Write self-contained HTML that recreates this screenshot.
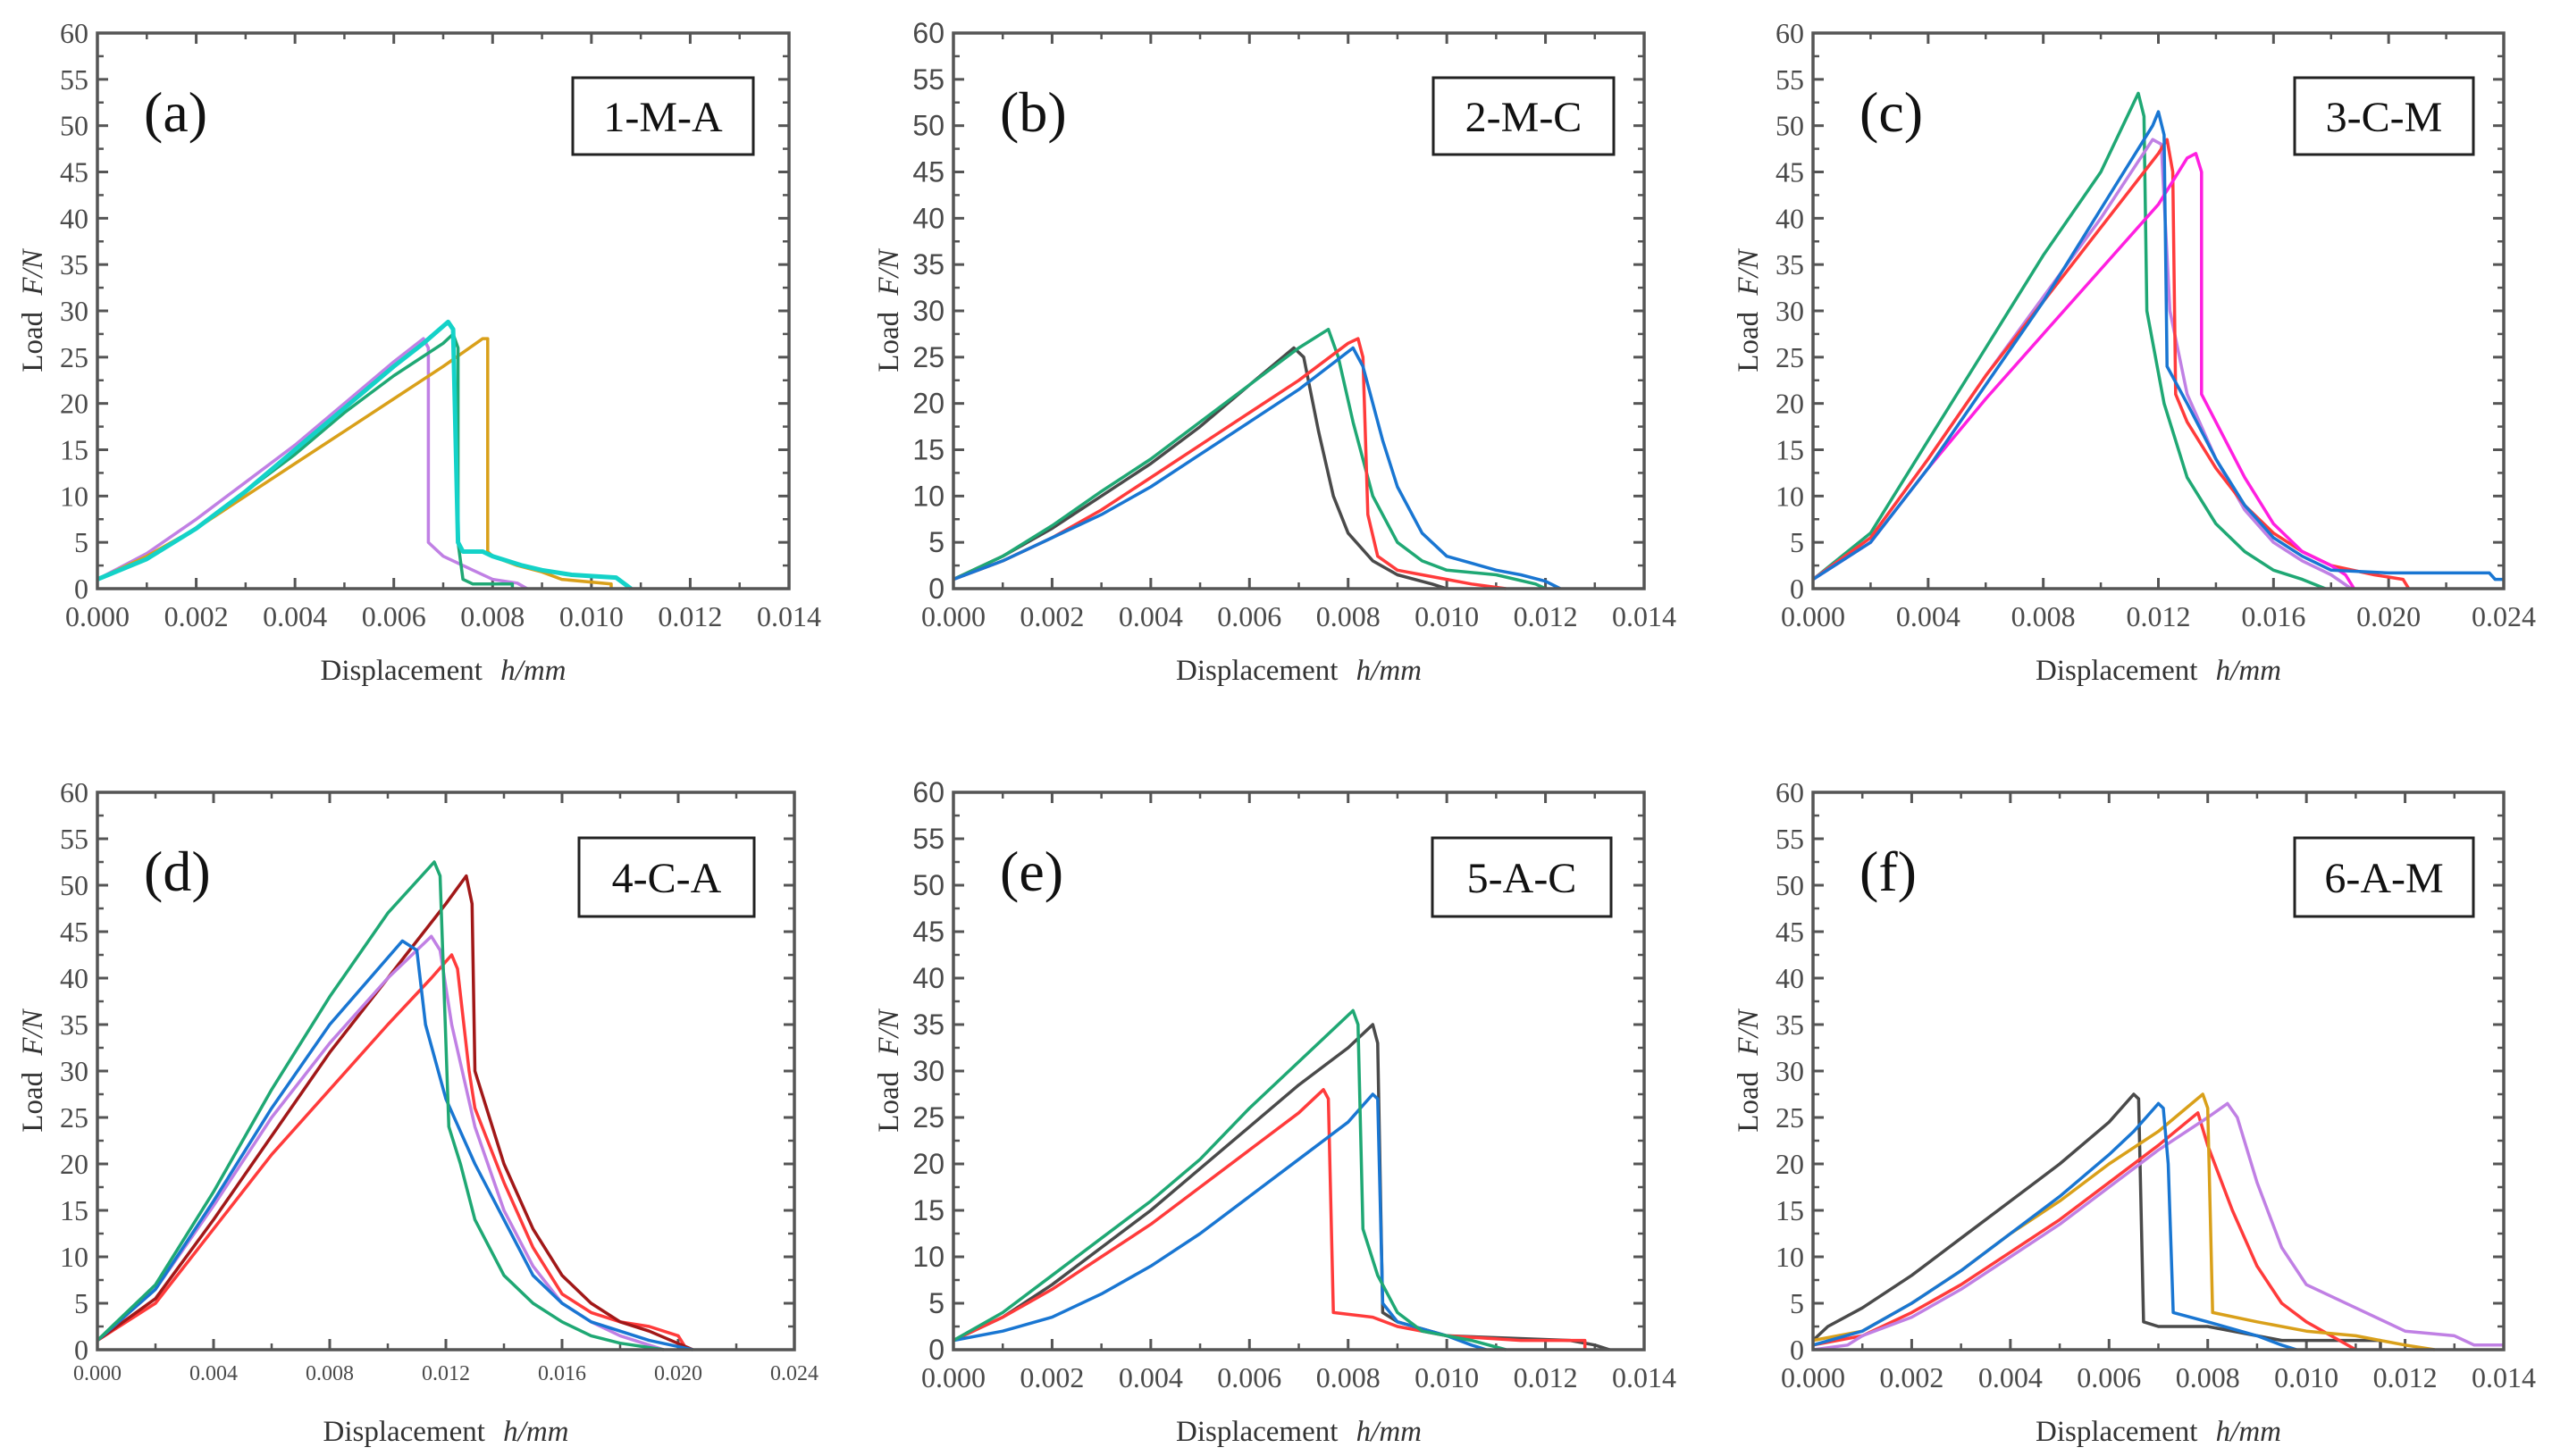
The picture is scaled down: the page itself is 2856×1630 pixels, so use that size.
<!DOCTYPE html>
<html><head><meta charset="utf-8"><style>
html,body{margin:0;padding:0;background:#fff;}
svg{display:block;}
</style></head><body>
<svg id="fig" width="2856" height="1630" viewBox="0 0 2856 1630" xmlns="http://www.w3.org/2000/svg"></svg>
<script>
// ---- data ----
const yTicks = [0,5,10,15,20,25,30,35,40,45,50,55,60];
const xTicks14 = ["0.000","0.002","0.004","0.006","0.008","0.010","0.012","0.014"];
const xTicks24 = ["0.000","0.004","0.008","0.012","0.016","0.020","0.024"];
const panelLetters = ["(a)","(b)","(c)","(d)","(e)","(f)"];
const panelTags = ["1-M-A","2-M-C","3-C-M","4-C-A","5-A-C","6-A-M"];

// panel a
const aPurpleX=[0,0.001,0.002,0.003,0.004,0.005,0.006,0.0066,0.0067,0.0067,0.0068,0.007,0.0076,0.008,0.0085,0.0087];
const aPurpleY=[1,3.8,7.5,11.5,15.5,20,24.5,27,26,5,4.5,3.5,2,1,0.6,0];
const aGreenX=[0,0.001,0.002,0.003,0.004,0.005,0.006,0.007,0.0072,0.0073,0.0073,0.0074,0.0076,0.0084,0.0084];
const aGreenY=[1,3.2,6.5,10.5,14.5,19,23,26.5,27.5,26,5,1,0.5,0.5,0];
const aOrangeX=[0,0.001,0.002,0.003,0.004,0.005,0.006,0.007,0.0078,0.0079,0.0079,0.008,0.0085,0.009,0.0094,0.0104,0.0104];
const aOrangeY=[1,3.5,6.5,10,13.5,17,20.5,24,27,27,4,3.5,2.5,1.8,1,0.5,0];
const aCyanX=[0,0.001,0.002,0.003,0.004,0.005,0.006,0.0066,0.0071,0.0072,0.0073,0.0074,0.0078,0.008,0.0086,0.009,0.0096,0.0105,0.0107,0.0108];
const aCyanY=[1,3.2,6.5,10.5,15,19.5,24,26.5,28.8,28,5,4,4,3.5,2.5,2,1.5,1.2,0.4,0];
// panel b
const bGrayX=[0,0.001,0.002,0.003,0.004,0.005,0.006,0.0069,0.0071,0.0074,0.0077,0.008,0.0085,0.009,0.0097,0.01];
const bGrayY=[1,3.5,6.5,10,13.5,17.5,22,26,25,17,10,6,3,1.5,0.5,0];
const bGreenX=[0,0.001,0.002,0.003,0.004,0.005,0.006,0.007,0.0076,0.0078,0.0081,0.0085,0.009,0.0095,0.01,0.011,0.0118,0.012];
const bGreenY=[1,3.5,6.8,10.5,14,18,22,26,28,25,18,10,5,3,2,1.5,0.5,0];
const bRedX=[0,0.001,0.002,0.003,0.004,0.005,0.006,0.007,0.008,0.0082,0.0083,0.0084,0.0086,0.009,0.0095,0.01,0.0105,0.0112];
const bRedY=[1,3,5.5,8.5,12,15.5,19,22.5,26.5,27,25,8,3.5,2,1.5,1,0.5,0];
const bBlueX=[0,0.001,0.002,0.003,0.004,0.005,0.006,0.007,0.0081,0.0083,0.0087,0.009,0.0095,0.01,0.011,0.0115,0.012,0.0123];
const bBlueY=[1,3,5.5,8,11,14.5,18,21.5,26,24,16,11,6,3.5,2,1.5,0.8,0];
// panel c
const cGreenX=[0,0.002,0.004,0.006,0.008,0.01,0.0113,0.0115,0.0116,0.0122,0.013,0.014,0.015,0.016,0.017,0.0178];
const cGreenY=[1,6,16,26,36,45,53.5,51,30,20,12,7,4,2,1,0];
const cBlueX=[0,0.002,0.004,0.006,0.008,0.01,0.0118,0.012,0.0122,0.0123,0.013,0.014,0.015,0.016,0.017,0.018,0.02,0.0235,0.0237,0.024];
const cBlueY=[1,5,13,22,31,41,50,51.5,49,24,20,14,9,5.5,3.5,2,1.7,1.7,1,1];
const cRedX=[0,0.002,0.004,0.006,0.008,0.01,0.012,0.0123,0.0125,0.0126,0.013,0.014,0.015,0.016,0.017,0.018,0.0195,0.0205,0.0207];
const cRedY=[1,5.5,14,23,31,39,47,48.5,45,21,18,13,9,6,4,2.5,1.5,1,0];
const cPurpleX=[0,0.002,0.004,0.006,0.008,0.01,0.0118,0.0121,0.0124,0.013,0.014,0.015,0.016,0.017,0.018,0.0187];
const cPurpleY=[1,5.5,14,23,31.5,40,48.5,48,30,21,14,8.5,5,3,1.5,0];
const cMagentaX=[0,0.002,0.004,0.006,0.008,0.01,0.012,0.013,0.0133,0.0135,0.0135,0.014,0.015,0.016,0.017,0.018,0.0185,0.0188];
const cMagentaY=[1,5,13,20.5,27.5,34.5,41.5,46.5,47,45,21,18,12,7,4,2.5,1.5,0];
// panel d
const dGreenX=[0,0.002,0.004,0.006,0.008,0.01,0.0116,0.0118,0.0121,0.0125,0.013,0.014,0.015,0.016,0.017,0.018,0.0195];
const dGreenY=[1,7,17,28,38,47,52.5,51,24,20,14,8,5,3,1.5,0.7,0];
const dDarkX=[0,0.002,0.004,0.006,0.008,0.01,0.012,0.0127,0.0129,0.013,0.014,0.015,0.016,0.017,0.018,0.019,0.0205];
const dDarkY=[1,5.5,14,23,32,40,48,51,48,30,20,13,8,5,3,2,0];
const dRedX=[0,0.002,0.004,0.006,0.008,0.01,0.0115,0.0122,0.0124,0.0128,0.013,0.014,0.015,0.016,0.017,0.018,0.019,0.02,0.0203];
const dRedY=[1,5,13,21,28,35,40,42.5,41,30,26,18,11,6,4,3,2.5,1.5,0];
const dPurpleX=[0,0.002,0.004,0.006,0.008,0.01,0.0115,0.0118,0.0122,0.013,0.014,0.015,0.016,0.017,0.018,0.019,0.0195];
const dPurpleY=[1,6.5,15.5,25,33,40,44.5,43,35,24,15,9,5,3,1.5,0.5,0];
const dBlueX=[0,0.002,0.004,0.006,0.008,0.0105,0.011,0.0113,0.012,0.013,0.014,0.015,0.016,0.017,0.018,0.019,0.0205];
const dBlueY=[1,6.5,16,26,35,44,43,35,27,20,14,8,5,3,2,1,0];
// panel e
const eGreenX=[0,0.001,0.002,0.003,0.004,0.005,0.006,0.007,0.0081,0.0082,0.0083,0.0086,0.009,0.0095,0.0105,0.0112];
const eGreenY=[1,4,8,12,16,20.5,26,31,36.5,35,13,8,4,2,1,0];
const eGrayX=[0,0.001,0.002,0.003,0.004,0.005,0.006,0.007,0.008,0.0085,0.0086,0.0087,0.009,0.01,0.0125,0.013,0.0133];
const eGrayY=[1,3.5,7,11,15,19.5,24,28.5,32.5,35,33,4,3,1.5,1,0.5,0];
const eRedX=[0,0.001,0.002,0.003,0.004,0.005,0.006,0.007,0.0075,0.0076,0.0077,0.0085,0.009,0.01,0.0115,0.0128,0.0128];
const eRedY=[1,3.5,6.5,10,13.5,17.5,21.5,25.5,28,27,4,3.5,2.5,1.5,1,1,0];
const eBlueX=[0,0.001,0.002,0.003,0.004,0.005,0.006,0.007,0.008,0.0085,0.0086,0.0087,0.009,0.01,0.0105,0.0108];
const eBlueY=[1,2,3.5,6,9,12.5,16.5,20.5,24.5,27.5,27,5,3,1.5,0.5,0];
// panel f
const fGrayX=[0,0.0003,0.001,0.002,0.003,0.004,0.005,0.006,0.0065,0.0066,0.0067,0.007,0.008,0.009,0.0095,0.0115,0.0115];
const fGrayY=[1,2.5,4.5,8,12,16,20,24.5,27.5,27,3,2.5,2.5,1.5,1,1,0];
const fBlueX=[0,0.001,0.002,0.003,0.004,0.005,0.006,0.0065,0.007,0.0071,0.0072,0.0073,0.008,0.009,0.0095,0.0098];
const fBlueY=[0.5,2,5,8.5,12.5,16.5,21,23.5,26.5,26,20,4,3,1.5,0.5,0];
const fOrangeX=[0,0.001,0.002,0.003,0.004,0.005,0.006,0.007,0.0079,0.008,0.0081,0.009,0.01,0.011,0.012,0.0126];
const fOrangeY=[1,2,5,8.5,12.5,16,20,23.5,27.5,26,4,3,2,1.5,0.5,0];
const fRedX=[0,0.001,0.002,0.003,0.004,0.005,0.006,0.007,0.0078,0.008,0.0085,0.009,0.0095,0.01,0.0105,0.011];
const fRedY=[0.5,1.5,4,7,10.5,14,18,22,25.5,22,15,9,5,3,1.5,0];
const fPurpleX=[0,0.0007,0.001,0.002,0.003,0.004,0.005,0.006,0.007,0.008,0.0084,0.0086,0.009,0.0095,0.01,0.011,0.012,0.013,0.0134,0.014];
const fPurpleY=[0,0.5,1.5,3.5,6.5,10,13.5,17.5,21.5,25,26.5,25,18,11,7,4.5,2,1.5,0.5,0.5];

// ---- layout ----
const NS="http://www.w3.org/2000/svg";
const svg=document.getElementById('fig');
const COL={green:"#1fa874",cyan:"#14d2c8",orange:"#d9a01a",purple:"#c080e4",gray:"#4a4a4a",red:"#ff3b3b",blue:"#1976d2",magenta:"#ff1fe0",dark:"#a11818"};
const panels=[
 {x0:109,x1:883,y0:37,y1:659,xmax:0.014,ticks:xTicks14,serif:true,tag:[641,87,202,86],
  series:[["purple",aPurpleX,aPurpleY],["orange",aOrangeX,aOrangeY],["green",aGreenX,aGreenY],["cyan",aCyanX,aCyanY]]},
 {x0:1067,x1:1840,y0:37,y1:659,xmax:0.014,ticks:xTicks14,serif:false,tag:[1604,87,202,86],
  series:[["gray",bGrayX,bGrayY],["green",bGreenX,bGreenY],["red",bRedX,bRedY],["blue",bBlueX,bBlueY]]},
 {x0:2029,x1:2802,y0:37,y1:659,xmax:0.024,ticks:xTicks24,serif:true,tag:[2568,87,200,86],
  series:[["green",cGreenX,cGreenY],["purple",cPurpleX,cPurpleY],["red",cRedX,cRedY],["magenta",cMagentaX,cMagentaY],["blue",cBlueX,cBlueY]]},
 {x0:109,x1:889,y0:887,y1:1511,xmax:0.024,ticks:xTicks24,serif:true,small:true,tag:[648,938,196,88],
  series:[["red",dRedX,dRedY],["dark",dDarkX,dDarkY],["purple",dPurpleX,dPurpleY],["blue",dBlueX,dBlueY],["green",dGreenX,dGreenY]]},
 {x0:1067,x1:1840,y0:887,y1:1511,xmax:0.014,ticks:xTicks14,serif:false,tag:[1603,938,200,88],
  series:[["gray",eGrayX,eGrayY],["red",eRedX,eRedY],["blue",eBlueX,eBlueY],["green",eGreenX,eGreenY]]},
 {x0:2029,x1:2802,y0:887,y1:1511,xmax:0.014,ticks:xTicks14,serif:true,tag:[2568,938,200,88],
  series:[["gray",fGrayX,fGrayY],["red",fRedX,fRedY],["purple",fPurpleX,fPurpleY],["orange",fOrangeX,fOrangeY],["blue",fBlueX,fBlueY]]}
];
function mk(tag,attrs,parent){const e=document.createElementNS(NS,tag);for(const k in attrs)e.setAttribute(k,attrs[k]);(parent||svg).appendChild(e);return e;}
const SERIF='"Liberation Serif", serif', SANS='"Liberation Sans", sans-serif';
const AX="#555";

panels.forEach((p,i)=>{
  const g=mk('g',{});
  
  
  const sx=v=>p.x0+v/p.xmax*(p.x1-p.x0);
  const sy=v=>p.y1-v/60*(p.y1-p.y0);
  const tf=p.serif?SERIF:SANS;
  // y ticks
  yTicks.forEach((v,k)=>{
    const y=sy(v);
    [[p.x0,12],[p.x1,-12]].forEach(([x,d])=>mk('line',{x1:x,y1:y,x2:x+d,y2:y,stroke:AX,'stroke-width':3},g));
    if(k<yTicks.length-1){const ym=sy(v+2.5);[[p.x0,7],[p.x1,-7]].forEach(([x,d])=>mk('line',{x1:x,y1:ym,x2:x+d,y2:ym,stroke:AX,'stroke-width':2.5},g));}
    const t=mk('text',{x:p.x0-10,y:y+11,'text-anchor':'end','font-family':tf,'font-size':32,fill:'#4a4a4a'},g);
    t.textContent=v;
    
    
  });
  // x ticks
  const n=p.ticks.length;
  p.ticks.forEach((lab,k)=>{
    const v=parseFloat(lab), x=sx(v);
    [[p.y1,-12],[p.y0,12]].forEach(([y,d])=>mk('line',{x1:x,y1:y,x2:x,y2:y+d,stroke:AX,'stroke-width':3},g));
    if(k<n-1){const xm=sx(v+p.xmax/(n-1)/2);[[p.y1,-7],[p.y0,7]].forEach(([y,d])=>mk('line',{x1:xm,y1:y,x2:xm,y2:y+d,stroke:AX,'stroke-width':2.5},g));}
    const t=mk('text',{x:x,y:p.y1+(p.small?34:42),'text-anchor':'middle','font-family':SERIF,'font-size':p.small?24:32,fill:'#4a4a4a'},g);
    t.textContent=lab;
    
    
  });
  // series
  p.series.forEach(([c,xs,ys])=>{
    const d=xs.map((x,k)=>(k?'L':'M')+sx(x).toFixed(1)+','+sy(ys[k]).toFixed(1)).join(' ');
    const path=mk('path',{d:d,fill:'none',stroke:COL[c],'stroke-width':c==='cyan'?5:3.5,'stroke-linejoin':'round'},g);
    
    
  });
  // frame
  const fr=mk('rect',{x:p.x0,y:p.y0,width:p.x1-p.x0,height:p.y1-p.y0,fill:'none',stroke:AX,'stroke-width':3.5},g);
  
  
  // panel letter
  const lt=mk('text',{x:p.x0+52,y:p.y0+110,'font-family':SERIF,'font-size':64,fill:'#111'},g);
  lt.textContent=panelLetters[i];
  
  
  // tag box
  const [bx,by,bw,bh]=p.tag;
  const bxr=mk('rect',{x:bx,y:by,width:bw,height:bh,fill:'#fff',stroke:'#222','stroke-width':3},g);
  
  
  const tt=mk('text',{x:bx+bw/2,y:by+bh/2+17,'text-anchor':'middle','font-family':SERIF,'font-size':48,fill:'#111'},g);
  tt.textContent=panelTags[i];
  
  
  // axis titles
  const xt=mk('text',{x:(p.x0+p.x1)/2,y:p.y1+102,'text-anchor':'middle','font-family':SERIF,'font-size':33,fill:'#333'},g);
  xt.innerHTML='Displacement <tspan font-style="italic" dx="12">h/mm</tspan>';
  
  
  const cy=(p.y0+p.y1)/2;
  const yt=mk('text',{x:p.x0-62,y:cy,'text-anchor':'middle','font-family':SERIF,'font-size':33,fill:'#333',transform:`rotate(-90 ${p.x0-62} ${cy})`},g);
  yt.innerHTML='Load <tspan font-style="italic" dx="10">F/N</tspan>';
  
  
});
</script>
</body></html>
